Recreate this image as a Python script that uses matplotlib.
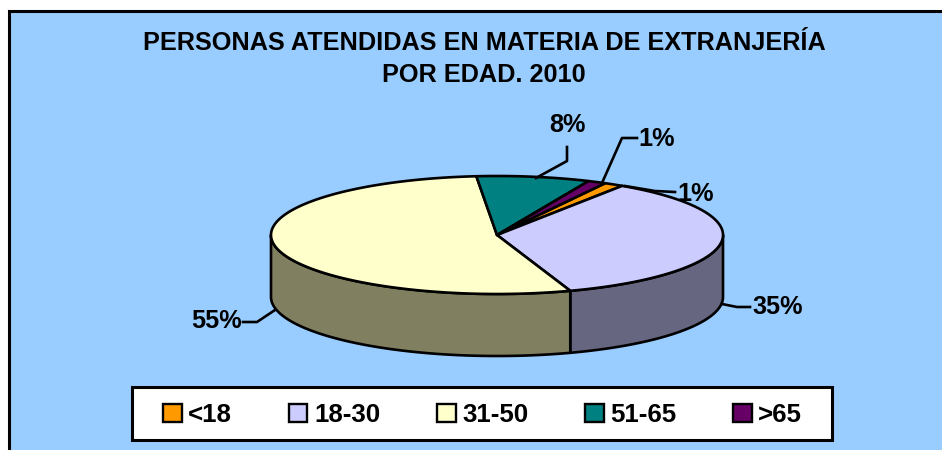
import numpy as np
import matplotlib
matplotlib.use('Agg')
import matplotlib.pyplot as plt
from matplotlib.patches import Patch, Rectangle

# Data
categories = ['<18', '18-30', '31-50', '51-65', '>65']
shares = [1.4, 35.4, 53.8, 8.1, 1.3]
share_labels = ['1%', '35%', '55%', '8%', '1%']
title_text = 'PERSONAS ATENDIDAS EN MATERIA DE EXTRANJERÍA\nPOR EDAD. 2010'

colors = ['#FF9900', '#CCCCFF', '#FFFFCC', '#008080', '#660066']
wall_colors = ['#805000', '#666680', '#808060', '#004040', '#330033']

plt.rcParams['font.family'] = ['Liberation Sans', 'DejaVu Sans']

fig = plt.figure(figsize=(9.42, 4.5), dpi=100)
ax = fig.add_axes([0, 0, 1, 1])
ax.set_xlim(0, 942)
ax.set_ylim(450, 0)
ax.axis('off')

# panel behind everything
ax.add_patch(Rectangle((9, 11), 960, 460, facecolor='#99CCFF', edgecolor='black', linewidth=2.2))

# pie geometry in pixels, angles run clockwise from the top
cx, cy = 497, 235
rx, ry = 226, 59
depth = 62
start_angle = 28.6
lw = 1.9

edges = start_angle + np.concatenate([[0], np.cumsum(shares)]) * 3.6


def rim(a, b):
    t = np.radians(np.linspace(a, b, 200))
    return cx + rx * np.sin(t), cy - ry * np.cos(t)


# side walls, only the front half of the cake shows
for i in range(len(shares)):
    a = max(edges[i], 90)
    b = min(edges[i + 1], 270)
    if a >= b:
        continue
    x, y = rim(a, b)
    wx = np.concatenate([x, x[::-1]])
    wy = np.concatenate([y, y[::-1] + depth])
    ax.fill(wx, wy, facecolor=wall_colors[i], edgecolor='black', linewidth=lw, joinstyle='round', zorder=2)

# top faces
for i in range(len(shares)):
    x, y = rim(edges[i], edges[i + 1])
    ax.fill(np.r_[cx, x], np.r_[cy, y], facecolor=colors[i], edgecolor='black', linewidth=lw, joinstyle='round', zorder=3)

# leader lines and labels
leaders = [
    [(675, 192), (655, 191), (625, 186)],
    [(750, 307), (737, 307), (722, 304)],
    [(243, 322), (257, 322), (275, 310)],
    [(567, 147), (567, 161), (536, 178)],
    [(637, 138), (622, 138), (602, 183)],
]
label_pos = [(696, 194), (778, 307), (216, 321), (567, 125), (657, 139)]
for pts, pos, txt in zip(leaders, label_pos, share_labels):
    px, py = zip(*pts)
    ax.plot(px, py, color='black', linewidth=lw, zorder=4)
    ax.text(pos[0], pos[1], txt, fontsize=18.2, fontweight='bold', ha='center', va='center')

ax.text(484, 59, title_text, fontsize=18.2, fontweight='bold', ha='center', va='center', linespacing=1.38)

# legend box, frame drawn apart since it is wider than it is padded
ax.add_patch(Rectangle((132, 387), 700, 53, facecolor='white', edgecolor='black', linewidth=2.2, zorder=5))
handles = [Patch(facecolor=c, edgecolor='black', linewidth=1.7) for c in colors]
leg = ax.legend(handles, categories, ncols=5, loc='center', bbox_to_anchor=(482.5, 415),
                bbox_transform=ax.transData, frameon=False,
                prop={'size': 18.6, 'weight': 'bold'}, handlelength=0.72, handleheight=0.72,
                handletextpad=0.25, columnspacing=2.2)
leg.set_zorder(6)

fig.savefig('out.png', dpi=100, facecolor='white')
